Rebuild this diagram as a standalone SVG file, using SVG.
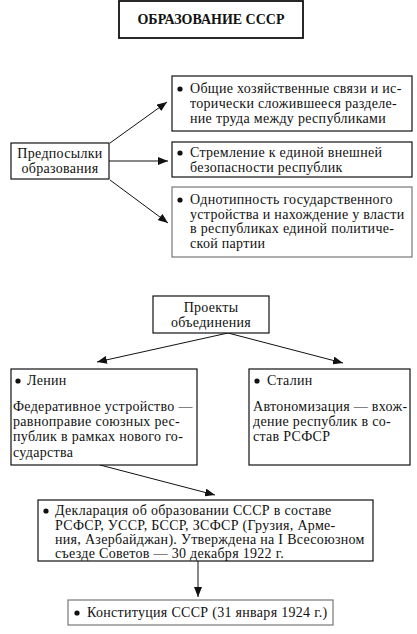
<svg xmlns="http://www.w3.org/2000/svg" width="417" height="634" viewBox="0 0 417 634">
<style>
text{font-family:"Liberation Serif","Times New Roman",serif;font-size:14px;letter-spacing:0.3px;fill:#111}
.t{font-weight:bold;font-size:14px;letter-spacing:0}
.c{text-anchor:middle}
rect{fill:#fff;stroke:#111;stroke-width:1.2}
.g{stroke:#777}
.th{stroke-width:1.8}
line{stroke:#111;stroke-width:1}
circle{fill:#111}
</style>
<defs>
<marker id="ah" viewBox="0 0 10 8" refX="10" refY="4" markerWidth="10" markerHeight="8" markerUnits="userSpaceOnUse" orient="auto">
<path d="M0,0 L10,4 L0,8 Z" fill="#111"/>
</marker>
</defs>
<g id="connectors">
<line x1="110" y1="143" x2="167" y2="102" marker-end="url(#ah)"/>
<line x1="109" y1="161" x2="168" y2="161" marker-end="url(#ah)"/>
<line x1="110" y1="180" x2="168" y2="223" marker-end="url(#ah)"/>
<line x1="228" y1="333" x2="97" y2="362" marker-end="url(#ah)"/>
<line x1="228" y1="333" x2="343" y2="363" marker-end="url(#ah)"/>
<line x1="100" y1="465" x2="215" y2="495" marker-end="url(#ah)"/>
<line x1="198" y1="561" x2="198" y2="597" marker-end="url(#ah)"/>
</g>
<g id="title">
<rect class="th" x="119" y="1" width="184" height="37"/>
<text class="t c" x="211" y="24">ОБРАЗОВАНИЕ СССР</text>
</g>
<g id="predposylki">
<rect x="11" y="143" width="98" height="36"/>
<text class="c" x="60" y="158">Предпосылки</text>
<text class="c" x="60" y="173">образования</text>
</g>
<g id="p1">
<rect x="172" y="76" width="240" height="55"/>
<circle cx="180" cy="89" r="2.6"/>
<text x="190" y="93">Общие хозяйственные связи и ис-</text>
<text x="190" y="108">торически сложившееся разделе-</text>
<text x="190" y="123">ние труда между республиками</text>
</g>
<g id="p2">
<rect x="172" y="142" width="240" height="35"/>
<circle cx="180" cy="153" r="2.6"/>
<text x="190" y="157">Стремление к единой внешней</text>
<text x="190" y="172">безопасности республик</text>
</g>
<g id="p3">
<rect class="g" x="172" y="187" width="240" height="70"/>
<circle cx="180" cy="200" r="2.6"/>
<text x="190" y="204">Однотипность государственного</text>
<text x="190" y="219">устройства и нахождение у власти</text>
<text x="190" y="233">в республиках единой политиче-</text>
<text x="190" y="248">ской партии</text>
</g>
<g id="proekty">
<rect x="153" y="296" width="116" height="37"/>
<text class="c" x="211" y="312">Проекты</text>
<text class="c" x="211" y="327">объединения</text>
</g>
<g id="lenin">
<rect x="11" y="369" width="186" height="96"/>
<circle cx="18" cy="381" r="2.6"/>
<text x="27" y="385">Ленин</text>
<text x="13" y="411">Федеративное устройство —</text>
<text x="13" y="426">равноправие союзных рес-</text>
<text x="13" y="441">публик в рамках нового го-</text>
<text x="13" y="457">сударства</text>
</g>
<g id="stalin">
<rect x="249" y="369" width="161" height="96"/>
<circle cx="257" cy="381" r="2.6"/>
<text x="267" y="385">Сталин</text>
<text x="253" y="411">Автономизация — вхож-</text>
<text x="253" y="426">дение республик в со-</text>
<text x="253" y="441">став РСФСР</text>
</g>
<g id="deklaratsiya">
<rect x="38" y="500" width="335" height="61"/>
<circle cx="46" cy="511" r="2.6"/>
<text x="55" y="515">Декларация об образовании СССР в составе</text>
<text x="55" y="530">РСФСР, УССР, БССР, ЗСФСР (Грузия, Арме-</text>
<text x="55" y="544">ния, Азербайджан). Утверждена на I Всесоюзном</text>
<text x="55" y="558">съезде Советов — 30 декабря 1922 г.</text>
</g>
<g id="konstitutsiya">
<rect class="g" x="68" y="600" width="265" height="25"/>
<circle cx="77" cy="613" r="2.6"/>
<text x="87" y="617">Конституция СССР (31 января 1924 г.)</text>
</g>
</svg>
